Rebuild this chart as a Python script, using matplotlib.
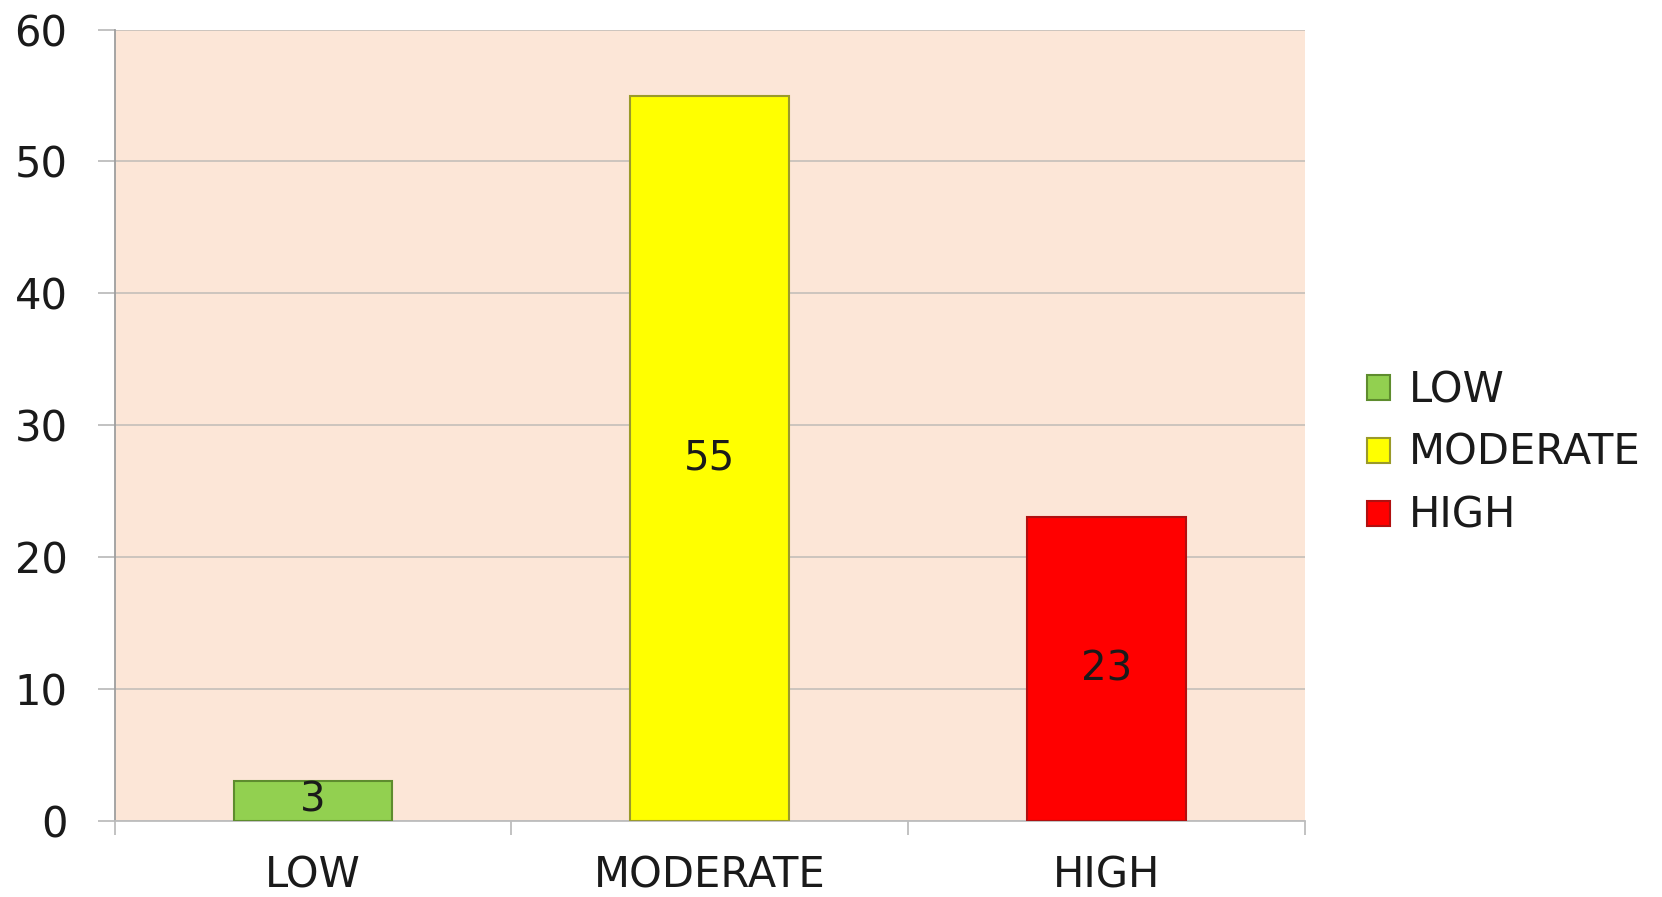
import numpy as np
import matplotlib.pyplot as plt
from matplotlib.patches import Patch

plt.rcParams['font.family'] = ['DejaVu Sans']

# Risk level counts
categories = ['LOW', 'MODERATE', 'HIGH']
counts = [3, 55, 23]
colors = ['#92D050', '#FFFF00', '#FF0000']
edges = ['#5E8C2E', '#9A9A2A', '#B01010']

FS = 30

fig = plt.figure(figsize=(16.62, 8.97), dpi=100)
ax = fig.add_axes([0.069, 0.085, 0.716, 0.882])
ax.set_facecolor('#FCE6D7')

x = np.arange(len(categories))
bars = ax.bar(x, counts, width=0.4, color=colors, edgecolor=edges, linewidth=1.5, zorder=3)

# Value labels in the middle of each bar
for xi, v in zip(x, counts):
    ax.text(xi, v / 2, str(v), ha='center', va='center', fontsize=FS - 1, color='#1a1a1a', zorder=4)

ax.set_xlim(-0.5, len(categories) - 0.5)
ax.set_ylim(0, 60)
ax.set_yticks(range(0, 61, 10))
ax.yaxis.grid(True, color='#C9C2BC', linewidth=1.3, zorder=0)
ax.set_axisbelow(True)

# Category labels centred, ticks on the category boundaries
ax.set_xticks(x)
ax.set_xticklabels(categories)
ax.set_xticks(np.arange(-0.5, len(categories)), minor=True)
ax.tick_params(axis='x', which='major', length=0, pad=24, labelsize=FS, labelcolor='#1a1a1a')
ax.tick_params(axis='x', which='minor', length=10, color='#BDBDBD', width=1.3, direction='out')
ax.tick_params(axis='y', length=12, color='#BDBDBD', width=1.3, pad=22, labelsize=FS, labelcolor='#1a1a1a')

for side in ['top', 'right']:
    ax.spines[side].set_visible(False)
ax.spines['left'].set_color('#9E9E9E')
ax.spines['bottom'].set_color('#BDBDBD')
ax.spines['left'].set_linewidth(1.3)
ax.spines['bottom'].set_linewidth(1.3)

handles = [Patch(facecolor=c, edgecolor=e, linewidth=1.5) for c, e in zip(colors, edges)]
fig.legend(handles, categories, loc='center left', bbox_to_anchor=(0.8, 0.495),
           frameon=False, prop={'size': FS}, labelcolor='#1a1a1a',
           handlelength=0.55, handleheight=0.55, handletextpad=0.45, labelspacing=0.5)

fig.savefig('out.png', dpi=100, facecolor='white')
